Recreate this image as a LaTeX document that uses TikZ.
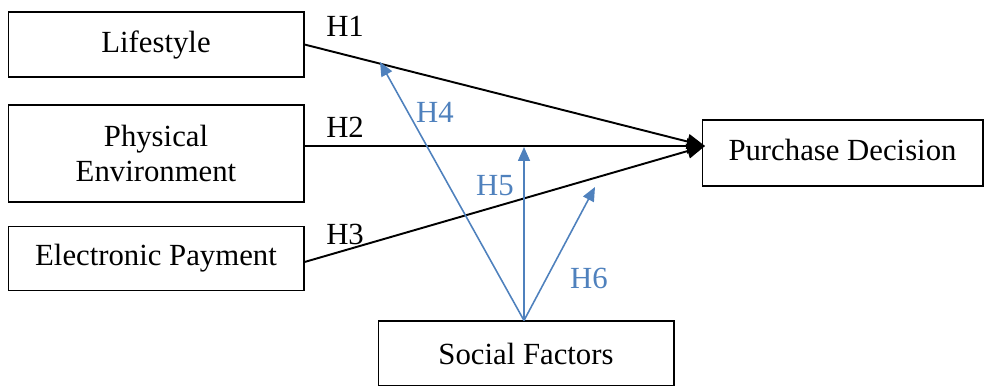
\documentclass[tikz,border=0pt]{standalone}
\usepackage{fontspec}
\setmainfont{Liberation Serif}
\usetikzlibrary{arrows.meta}
\definecolor{hblue}{RGB}{79,129,189}
\begin{document}
\begin{tikzpicture}[x=0.02cm,y=-0.02cm,
		box/.style={draw,line width=0.6pt,minimum width=5.92cm,minimum height=1.3cm,align=center,inner sep=0pt,font=\fontsize{17.5}{19.5}\selectfont},
		hlabel/.style={font=\fontsize{17.5}{19.5}\selectfont},
		path/.style={line width=1.1pt,-{Triangle[length=0.36cm,width=0.3cm]}},
		mod/.style={hblue,line width=0.9pt,-{Triangle[length=0.28cm,width=0.24cm]}}]
		\useasboundingbox (0,0) rectangle (986,385);
		\node[box] (life) at (156,44.5) {Lifestyle};
		\node[box,minimum height=1.94cm] (phys) at (156,153.5) {Physical\\Environment};
		\node[box,minimum height=1.28cm] (epay) at (156,258.5) {Electronic Payment};
		\node[box,minimum width=5.62cm,minimum height=1.32cm,text depth=0.14cm] (pd) at (842.5,153) {Purchase Decision};
		\node[box] (social) at (526,353.5) {Social Factors};
		\coordinate (pdin) at (705,146);
		\coordinate (h4tip) at (380,62);
		\coordinate (h5tip) at (524,147);
		\coordinate (h6tip) at (595,187);

		\draw[path] (life.east) -- (pdin) node[hlabel,pos=0,above right,xshift=8.5pt,yshift=0.5pt]{H1};
		\draw[path] (phys.east |- pdin) -- (pdin) node[hlabel,pos=0,above right,xshift=8.5pt,yshift=1pt]{H2};
		\draw[path] ([yshift=-2pt]epay.east) -- (pdin) node[hlabel,pos=0,above right,xshift=8.5pt,yshift=6pt]{H3};

		\draw[mod] (social.north) ++(-2,0) -- (h4tip);
		\draw[mod] (social.north) ++(-2,0) -- (h5tip);
		\draw[mod] (social.north) ++(-2,0) -- (h6tip);
		\node[hlabel,hblue] (h4) at (435,112) {H4};
		\node[hlabel,hblue] (h5) at (495,186) {H5};
		\node[hlabel,hblue] (h6) at (589,278) {H6};
	\end{tikzpicture}
\end{document}
